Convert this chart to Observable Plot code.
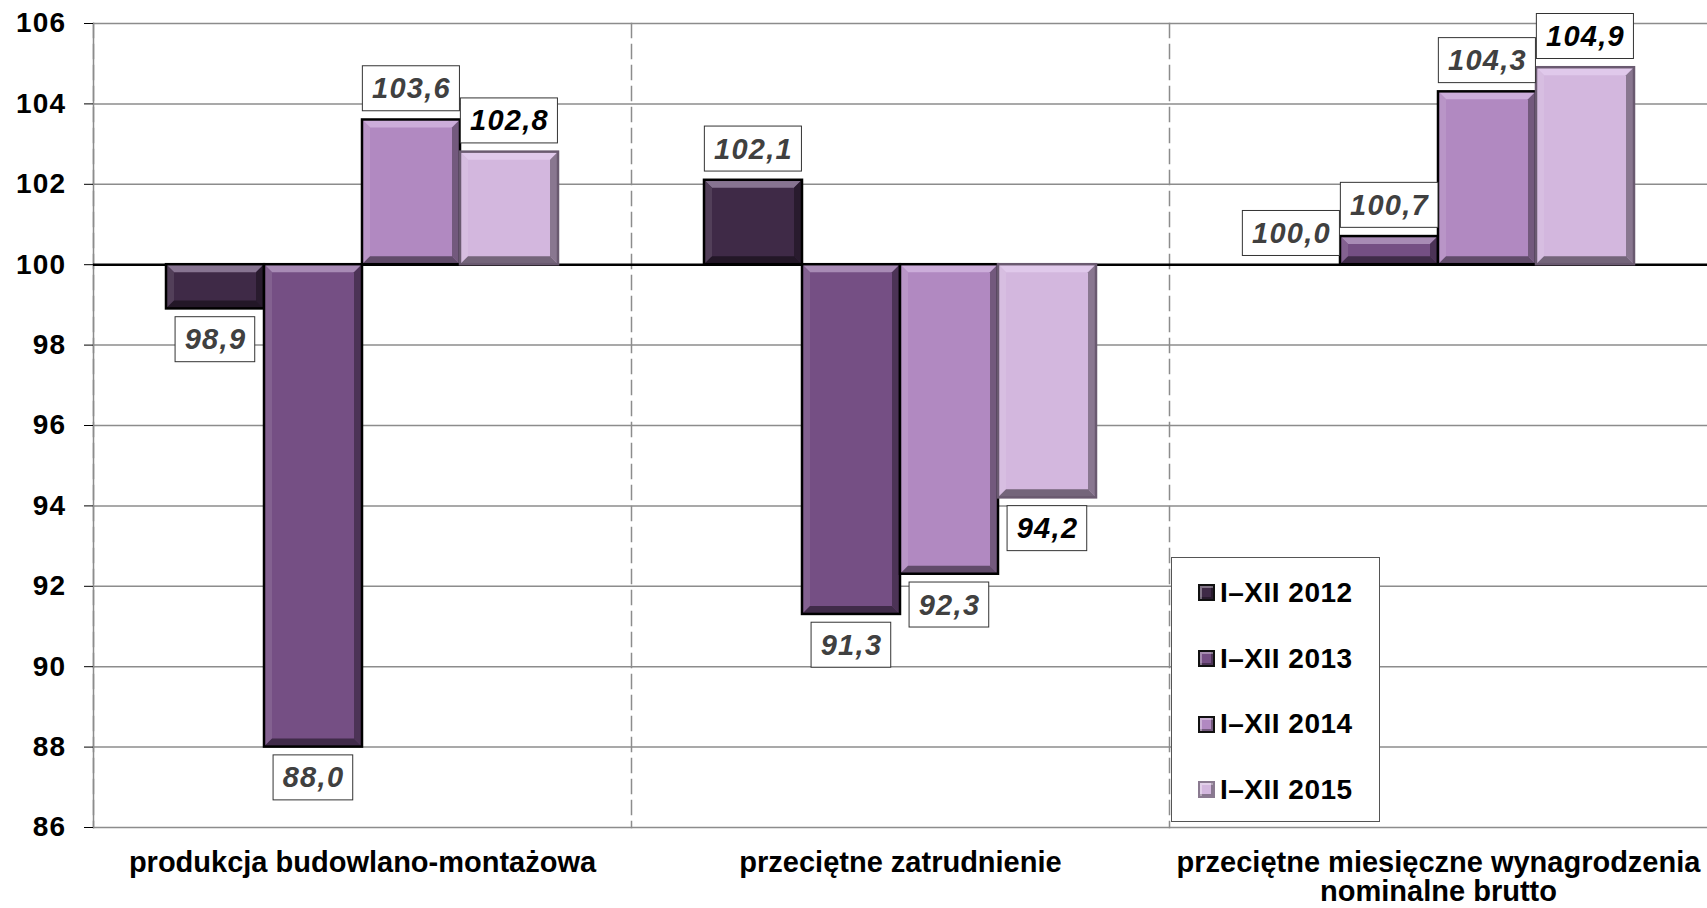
<!DOCTYPE html>
<html>
<head>
<meta charset="utf-8">
<script src="https://cdn.jsdelivr.net/npm/d3@7"></script>
<script src="https://cdn.jsdelivr.net/npm/@observablehq/plot@0.6"></script>
<style>
  html, body { margin: 0; padding: 0; background: #fff; overflow: hidden; }
  #wrap { position: relative; width: 1707px; height: 908px; }
  svg text { letter-spacing: 1.3px; }
  g[aria-label="fx-axis tick label"] text { letter-spacing: 0; }
  g[aria-label="y-axis tick"] { stroke: #8c8c8c; }
  #legend {
    position: absolute; left: 1171px; top: 557px; width: 209px; height: 265px;
    background: #fff; border: 1px solid #555; box-sizing: border-box;
    font-family: 'Liberation Sans', Arial, sans-serif; font-weight: bold; font-size: 28px;
    letter-spacing: 0.5px; color: #000; padding-top: 2px;
  }
  .entry { height: 65.7px; display: flex; align-items: center; padding-left: 26px; }
  .sw { width: 17px; height: 17px; box-sizing: border-box; border: 2px solid #111; margin-right: 5px;
        box-shadow: inset 2px 2px 0 rgba(255,255,255,0.35), inset -2px -2px 0 rgba(0,0,0,0.35); }
</style>
</head>
<body>
<div id="wrap"></div>
<script>
const categories = ["produkcja budowlano-montażowa", "przeciętne zatrudnienie", "przeciętne miesięczne wynagrodzenia nominalne brutto"];
const categoryLabels = ["produkcja budowlano-montażowa", "przeciętne zatrudnienie", "przeciętne miesięczne wynagrodzenia\nnominalne brutto"];
const series = ["I–XII 2012", "I–XII 2013", "I–XII 2014", "I–XII 2015"];
const values2012 = [98.9, 102.1, 100.0];
const values2013 = [88.0, 91.3, 100.7];
const values2014 = [103.6, 92.3, 104.3];
const values2015 = [102.8, 94.2, 104.9];
const seriesColors = ["#3f2a47", "#754f84", "#b189c1", "#d3b7de"];
const seriesStrokes = ["#000000", "#000000", "#000000", "#6a5a70"];
const labelColors = ["#404040", "#404040", "#404040", "#000000"];
const yTicks = [86, 88, 90, 92, 94, 96, 98, 100, 102, 104, 106];
const baseline = 100;

const allValues = [values2012, values2013, values2014, values2015];
const data = [];
categories.forEach((c, i) => series.forEach((s, j) => data.push({category: c, series: s, si: j, value: allValues[j][i]})));
const fmt = v => v.toFixed(1).replace(".", ",");
const pos = data.filter(d => d.value >= baseline);
const neg = data.filter(d => d.value < baseline);
const font = "'Liberation Sans', Arial, sans-serif";

const textOpts = {
  fx: "category", x: "series", y: "value", text: d => fmt(d.value),
  fill: d => labelColors[d.si], fontSize: 29, fontWeight: "bold", fontStyle: "italic",
  textAnchor: "middle", lineAnchor: "middle"
};

const svg = Plot.plot({
  width: 1707, height: 908,
  marginLeft: 92, marginRight: 0, marginTop: 23, marginBottom: 81,
  style: {fontFamily: font, background: "white", overflow: "visible"},
  fx: {domain: categories, padding: 0, label: null},
  x: {domain: series, paddingInner: 0, paddingOuter: 0.73, axis: null},
  y: {domain: [86, 106], label: null},
  color: {type: "identity"},
  marks: [
    Plot.ruleY(yTicks, {stroke: "#8c8c8c", strokeWidth: 1.5}),
    Plot.frame({anchor: "left", stroke: "#8c8c8c", strokeWidth: 1.5, strokeDasharray: "14,7"}),
    Plot.frame({anchor: "left", stroke: "#8c8c8c", strokeWidth: 1.5, facetAnchor: "left"}),
    Plot.ruleY([baseline], {stroke: "#000", strokeWidth: 2.5}),
    Plot.barY(data, {
      fx: "category", x: "series", y1: baseline, y2: "value",
      fill: d => seriesColors[d.si], stroke: d => seriesStrokes[d.si], strokeWidth: 2.5, inset: 0
    }),
    Plot.axisY({ticks: yTicks, tickSize: 9, tickPadding: 18, fontSize: 28, fontWeight: "bold", color: "#000", label: null, tickFormat: d => String(d)}),
    Plot.axisFx({anchor: "bottom", tickSize: 0, tickPadding: 24, fontSize: 29, fontWeight: "bold", lineHeight: 1.0, label: null,
      tickFormat: c => categoryLabels[categories.indexOf(c)]}),
    Plot.text(pos, {...textOpts, dy: -31}),
    Plot.text(neg, {...textOpts, dy: 31})
  ]
});

document.getElementById("wrap").appendChild(svg);

// bevel effect on bars
const NS = "http://www.w3.org/2000/svg";
svg.querySelectorAll('g[aria-label="bar"] rect').forEach(r => {
  const x = +r.getAttribute("x"), y = +r.getAttribute("y"), w = +r.getAttribute("width"), h = +r.getAttribute("height");
  const fill = r.getAttribute("fill");
  const stroke = r.getAttribute("stroke");
  if (h >= 3) {
    const b = Math.min(8, w / 2, h / 2);
    const light = d3.interpolateRgb(fill, "#f4e4ff")(0.4);
    const lightL = d3.interpolateRgb(fill, "#ffffff")(0.1);
    const darkR = d3.interpolateRgb(fill, "#000000")(0.35);
    const darkB = d3.interpolateRgb(fill, "#000000")(0.45);
    const polys = [
      [[x, y], [x + w, y], [x + w - b, y + b], [x + b, y + b], light],
      [[x, y], [x + b, y + b], [x + b, y + h - b], [x, y + h], lightL],
      [[x + w, y], [x + w - b, y + b], [x + w - b, y + h - b], [x + w, y + h], darkR],
      [[x, y + h], [x + b, y + h - b], [x + w - b, y + h - b], [x + w, y + h], darkB]
    ];
    let after = r;
    polys.forEach(p => {
      const el = document.createElementNS(NS, "polygon");
      el.setAttribute("points", p.slice(0, 4).map(q => q.join(",")).join(" "));
      el.setAttribute("fill", p[4]);
      el.setAttribute("stroke", "none");
      after.after(el);
      after = el;
    });
    const o = document.createElementNS(NS, "rect");
    ["x", "y", "width", "height"].forEach(a => o.setAttribute(a, r.getAttribute(a)));
    o.setAttribute("fill", "none");
    o.setAttribute("stroke", stroke);
    after.after(o);
    r.setAttribute("stroke", "none");
  }
});

// white boxes behind the value labels
svg.querySelectorAll('g[aria-label="text"] text').forEach(t => {
  const bb = t.getBBox();
  const cy = bb.y + bb.height / 2;
  const rw = bb.width + 18, rh = 45;
  const rect = document.createElementNS(NS, "rect");
  rect.setAttribute("x", bb.x + bb.width / 2 - rw / 2 - 0.6);
  rect.setAttribute("y", cy - rh / 2);
  rect.setAttribute("width", rw);
  rect.setAttribute("height", rh);
  rect.setAttribute("fill", "#fff");
  rect.setAttribute("stroke", "#333");
  rect.setAttribute("stroke-width", "1");
  const tr = t.getAttribute("transform");
  if (tr) rect.setAttribute("transform", tr);
  t.before(rect);
});

// legend overlay
const legend = document.createElement("div");
legend.id = "legend";
series.forEach((s, j) => {
  const e = document.createElement("div");
  e.className = "entry";
  const sw = document.createElement("span");
  sw.className = "sw";
  sw.style.background = seriesColors[j];
  if (j === 3) sw.style.borderColor = "#8a7a90";
  e.appendChild(sw);
  e.appendChild(document.createTextNode(s));
  legend.appendChild(e);
});
document.getElementById("wrap").appendChild(legend);
</script>
</body>
</html>
